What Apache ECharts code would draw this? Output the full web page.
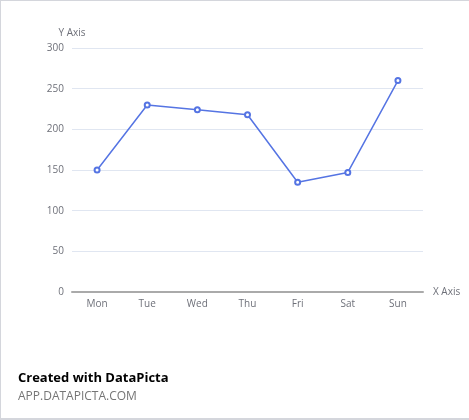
<!DOCTYPE html>
<html>
<head>
<meta charset="utf-8">
<script src="https://cdn.jsdelivr.net/npm/echarts@6/dist/echarts.min.js"></script>
<style>
  html, body { margin: 0; padding: 0; background: #fff; }
  #main {
    width: 469px;
    height: 420px;
    box-sizing: border-box;
    border-top: 1px solid #d4d6dc;
    border-left: 1px solid #d4d6dc;
    border-bottom: 2px solid #d4d6dc;
  }
</style>
</head>
<body>
<div id="main"></div>
<script>
const days = ["Mon", "Tue", "Wed", "Thu", "Fri", "Sat", "Sun"];
const values = [150, 230, 224, 218, 135, 147, 260];

const myChart = echarts.init(document.getElementById("main"));

const font = "'Open Sans', 'Noto Sans', sans-serif";

const option = {
  animation: false,
  textStyle: { fontFamily: font },
  grid: {
    left: 71,
    right: 46,
    top: 47,
    bottom: 126,
  },
  xAxis: {
    type: "category",
    data: days,
    name: "X Axis",
    nameGap: 10,
    nameTextStyle: { color: "#6e7079", fontSize: 10 },
    axisLine: { lineStyle: { color: "#aaaaaa", width: 2 } },
    axisTick: { show: false },
    axisLabel: { color: "#6e7079", fontSize: 10, margin: 7 },
  },
  yAxis: {
    type: "value",
    min: 0,
    max: 300,
    interval: 50,
    name: "Y Axis",
    nameGap: 10,
    nameTextStyle: { color: "#6e7079", fontSize: 10, align: "center" },
    axisLabel: { color: "#6e7079", fontSize: 10, margin: 8 },
    splitLine: { lineStyle: { color: "#e0e6f1" } },
  },
  series: [
    {
      type: "line",
      data: values,
      symbol: "emptyCircle",
      symbolSize: 5,
      lineStyle: { color: "#5574e3", width: 1.5 },
      itemStyle: { color: "#5574e3", borderWidth: 1.5 },
    },
  ],
  graphic: [
    {
      type: "text",
      left: 17,
      top: 371,
      style: {
        text: "Created with DataPicta",
        font: "bold 13px " + font,
        fill: "#000",
      },
    },
    {
      type: "text",
      left: 17,
      top: 390,
      style: {
        text: "APP.DATAPICTA.COM",
        font: "12px " + font,
        fill: "#757575",
      },
    },
  ],
};

myChart.setOption(option);
</script>
</body>
</html>
